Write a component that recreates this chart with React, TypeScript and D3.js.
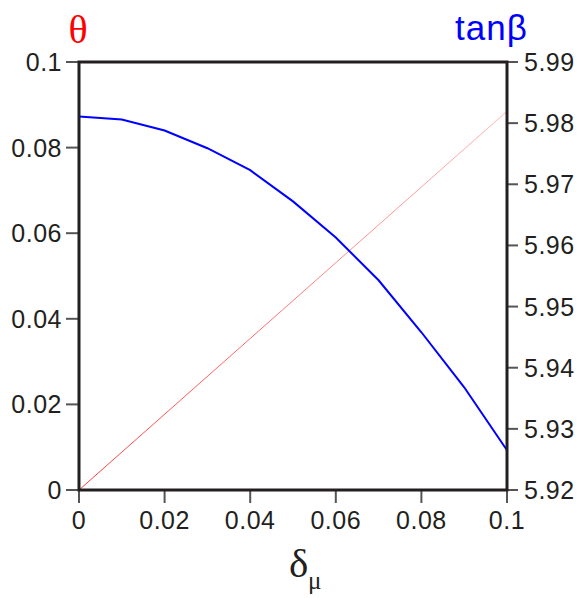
import React from "react";
import * as d3 from "d3";

const deltaTicks = [0, 0.02, 0.04, 0.06, 0.08, 0.1];
const deltaTickLabels = ["0", "0.02", "0.04", "0.06", "0.08", "0.1"];
const thetaTicks = [0, 0.02, 0.04, 0.06, 0.08, 0.1];
const thetaTickLabels = ["0", "0.02", "0.04", "0.06", "0.08", "0.1"];
const tanbTicks = [5.92, 5.93, 5.94, 5.95, 5.96, 5.97, 5.98, 5.99];
const tanbTickLabels = ["5.92", "5.93", "5.94", "5.95", "5.96", "5.97", "5.98", "5.99"];

const thetaDelta = [0, 0.1];
const thetaValues = [0, 0.0885];

const tanbDelta = [0, 0.01, 0.02, 0.03, 0.04, 0.05, 0.06, 0.07, 0.08, 0.09, 0.1];
const tanbValues = [5.9811, 5.9806, 5.9788, 5.9759, 5.9723, 5.9672, 5.9613, 5.9543, 5.9458, 5.9368, 5.9265];

const W = 579;
const H = 598;
const L = 79, R = 507, T = 62, B = 490;

export default function App() {
  const x = d3.scaleLinear().domain([0, 0.1]).range([L, R]);
  const yL = d3.scaleLinear().domain([0, 0.1]).range([B, T]);
  const yR = d3.scaleLinear().domain([5.92, 5.99]).range([B, T]);

  const thetaLine = d3.line<number>().x((_, i) => x(thetaDelta[i])).y((d) => yL(d));
  const tanbLine = d3.line<number>().x((_, i) => x(tanbDelta[i])).y((d) => yR(d));

  const tickFont = { fontFamily: "Liberation Sans, Arial, sans-serif", fontSize: 25, letterSpacing: 0.5, fill: "#231f20" } as const;

  return (
    <svg width={W} height={H} style={{ position: "absolute", left: 0, top: 0, background: "#fff" }}>
      <defs>
        <linearGradient id="redfade" gradientUnits="userSpaceOnUse" x1={x(0)} y1={yL(0)} x2={x(0.1)} y2={yL(0.0885)}>
          <stop offset="0" stopColor="#ff0000" stopOpacity={0.95} />
          <stop offset="1" stopColor="#ff0000" stopOpacity={0.35} />
        </linearGradient>
      </defs>
      {deltaTicks.map((t, i) => (
        <g key={"dx" + i}>
          <line x1={x(t)} x2={x(t)} y1={B} y2={B + 13} stroke="#555" strokeWidth={2} />
          <text x={x(t)} y={529} textAnchor="middle" {...tickFont}>{deltaTickLabels[i]}</text>
        </g>
      ))}
      {thetaTicks.map((t, i) => (
        <g key={"yl" + i}>
          <line x1={L - 13} x2={L} y1={yL(t)} y2={yL(t)} stroke="#555" strokeWidth={2} />
          <text x={62} y={yL(t)} dy="0.36em" textAnchor="end" {...tickFont}>{thetaTickLabels[i]}</text>
        </g>
      ))}
      {tanbTicks.map((t, i) => (
        <g key={"yr" + i}>
          <line x1={R} x2={R + 11} y1={yR(t)} y2={yR(t)} stroke="#555" strokeWidth={2} />
          <text x={524} y={yR(t)} dy="0.36em" textAnchor="start" {...tickFont}>{tanbTickLabels[i]}</text>
        </g>
      ))}
      <path d={thetaLine(thetaValues) || ""} fill="none" stroke="url(#redfade)" strokeWidth={0.8} />
      <path d={tanbLine(tanbValues) || ""} fill="none" stroke="#0000ff" strokeWidth={2} />
      <rect x={L} y={T} width={R - L} height={B - T} fill="none" stroke="#231f20" strokeWidth={3} />
      <text x={78} y={43} textAnchor="middle" fontFamily="Liberation Serif, Times New Roman, serif" fontSize={40} fill="#ff0000">θ</text>
      <text x={455} y={40} textAnchor="start" fontFamily="Liberation Sans, Arial, sans-serif" fontSize={35} letterSpacing={1} fill="#0000ff">tanβ</text>
      <text x={289} y={577} fontFamily="Liberation Serif, Times New Roman, serif" fontSize={41} fill="#231f20">δ</text>
      <text x={308} y={589} fontFamily="Liberation Serif, Times New Roman, serif" fontSize={25} fill="#231f20">μ</text>
    </svg>
  );
}
